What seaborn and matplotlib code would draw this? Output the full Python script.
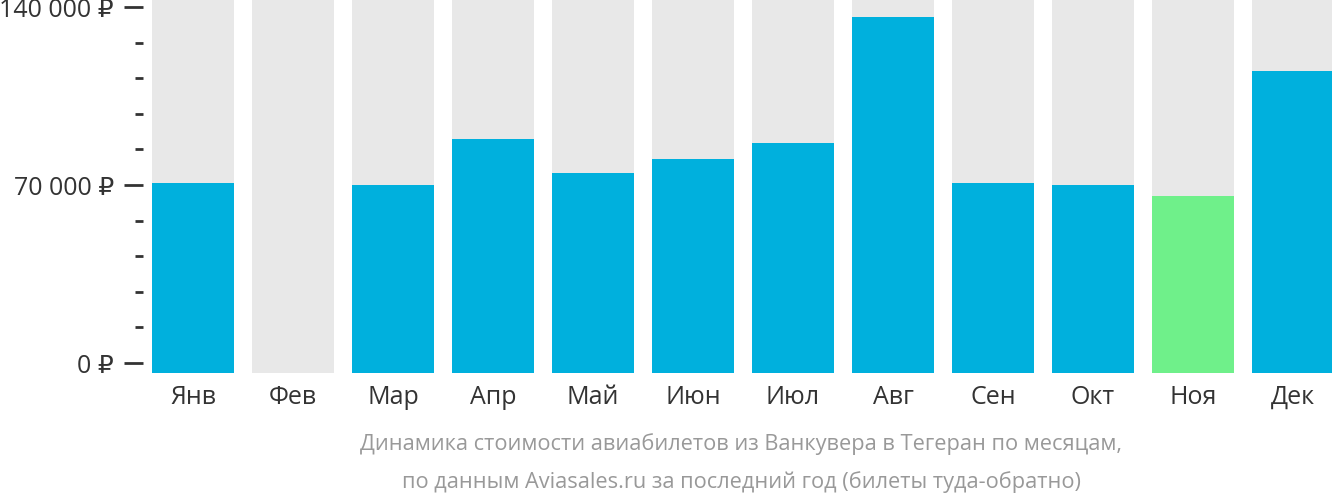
import matplotlib
matplotlib.use("Agg")
import matplotlib.pyplot as plt
from matplotlib.ticker import MultipleLocator, FixedLocator
import seaborn as sns
import numpy as np
import pandas as pd

months = ["Янв", "Фев", "Мар", "Апр", "Май", "Июн", "Июл", "Авг", "Сен", "Окт", "Ноя", "Дек"]
prices = [70800, np.nan, 70000, 88100, 74700, 80200, 86500, 136100, 70800, 70000, 65700, 114800]
bar_colors = ["#00b0dd"] * 10 + ["#6ff08a", "#00b0dd"]
major_ticks = [0, 70000, 140000]
tick_labels = ["0 ₽", "70 000 ₽", "140 000 ₽"]
caption = ("Динамика стоимости авиабилетов из Ванкувера в Тегеран по месяцам,\n"
           "по данным Aviasales.ru за последний год (билеты туда-обратно)")

sns.set_theme(style="white")
plt.rcParams["font.family"] = ["Open Sans", "DejaVu Sans"]

W, H = 1332, 502
fig = plt.figure(figsize=(W / 100, H / 100), dpi=100)
ax = fig.add_axes([143 / W, (H - 374) / H, 1200 / W, 374 / H])

px = 140000 / 356.0
ybot = -10 * px
ytop = 140000 + 8 * px

df = pd.DataFrame({"month": months, "price": prices})
df["h"] = df["price"] - ybot
df["bg"] = ytop - ybot

sns.barplot(data=df, x="month", y="bg", order=months, color="#e8e8e8",
            bottom=ybot, width=0.82, saturation=1, ax=ax, errorbar=None, linewidth=0)
sns.barplot(data=df, x="month", y="h", order=months, hue="month", hue_order=months,
            palette=bar_colors, bottom=ybot, width=0.82, saturation=1, legend=False,
            ax=ax, errorbar=None, linewidth=0)

ax.set_xlim(-0.5, 11.5)
ax.set_ylim(ybot, ytop)
for s in ax.spines.values():
    s.set_visible(False)
ax.set_xlabel("")
ax.set_ylabel("")
ax.yaxis.set_major_locator(FixedLocator(major_ticks))
ax.set_yticklabels(tick_labels)
ax.yaxis.set_minor_locator(MultipleLocator(14000))
ax.tick_params(axis="y", which="major", length=14, width=2, color="#333333",
               labelsize=18, labelcolor="#333333", pad=7, left=True)
ax.tick_params(axis="y", which="minor", length=6, width=2, color="#333333", left=True)
ax.tick_params(axis="x", length=0, labelsize=18, labelcolor="#333333", pad=8)

fig.text(0.5 * (360 + 1122) / W, 1 - 463 / H, caption, ha="center", va="center",
         fontsize=15.7, color="#999999", linespacing=1.95)

fig.savefig("out.png", dpi=100)
